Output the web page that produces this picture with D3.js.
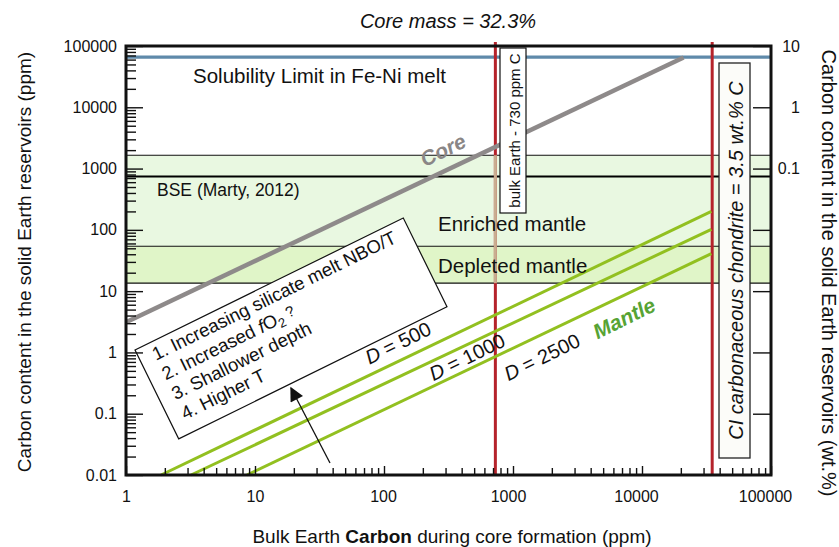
<!DOCTYPE html>
<html>
<head>
<meta charset="utf-8">
<script src="https://cdn.jsdelivr.net/npm/d3@7"></script>
<style>
  body { margin: 0; background: #fff; }
  text { font-family: "Liberation Sans", Arial, Helvetica, sans-serif; }
</style>
</head>
<body>
<svg id="chart" width="839" height="547"></svg>
<script>
// ---- data (ppm unless noted) ----
const xTickValues = [1, 10, 100, 1000, 10000, 100000];
const xTickLabels = ["1", "10", "100", "1000", "10000", "100000"];
const yTickValues = [0.01, 0.1, 1, 10, 100, 1000, 10000, 100000];
const yTickLabels = ["0.01", "0.1", "1", "10", "100", "1000", "10000", "100000"];
const wtTickValues = [10, 1, 0.1, 0.01, 0.001, 0.0001, 0.00001];   // wt.%
const wtTickLabels = ["10", "1", "0.1", "", "", "", ""];
const solubilityLimit = 66000;
const bseCarbon = 740;
const enrichedMantle = [54, 1650];
const depletedMantle = [13.5, 54];
const bulkEarthCarbon = 730;
const ciChondriteCarbon = 35000;
const coreBulk = [1, 21000];
const coreCarbon = [3.1, 65000];
const mantleD = [500, 1000, 2500];
const mantleBulk = [[1.87, 34500], [3.19, 34500], [8.67, 34500]];
const mantleCarbon = [[0.01, 200], [0.01, 102], [0.01, 41]];
const processes = ["1. Increasing silicate melt NBO/T", "2. Increased fO2 ?", "3. Shallower depth", "4. Higher T"];

// ---- layout ----
const plot = { left: 126, right: 771, top: 46, bottom: 475 };
const x = d3.scaleLog().domain([1, 1e5]).range([plot.left, plot.right]);
const y = d3.scaleLog().domain([0.01, 1e5]).range([plot.bottom, plot.top]);
const svg = d3.select("#chart");
const tilt = -26.2;

// mantle reservoir bands
const bands = svg.append("g");
bands.append("rect")
  .attr("x", plot.left).attr("width", plot.right - plot.left)
  .attr("y", y(enrichedMantle[1])).attr("height", y(enrichedMantle[0]) - y(enrichedMantle[1]))
  .attr("fill", "#e9f8e1");
bands.append("rect")
  .attr("x", plot.left).attr("width", plot.right - plot.left)
  .attr("y", y(depletedMantle[1])).attr("height", y(depletedMantle[0]) - y(depletedMantle[1]))
  .attr("fill", "#e0f5c8");
[enrichedMantle[1], enrichedMantle[0], depletedMantle[0]].forEach(v => {
  bands.append("line")
    .attr("x1", plot.left).attr("x2", plot.right)
    .attr("y1", y(v)).attr("y2", y(v))
    .attr("stroke", "#111").attr("stroke-width", 1.2);
});
bands.append("line")
  .attr("x1", plot.left).attr("x2", plot.right)
  .attr("y1", y(bseCarbon)).attr("y2", y(bseCarbon))
  .attr("stroke", "#000").attr("stroke-width", 2);

// solubility limit of carbon in Fe-Ni melt
svg.append("line")
  .attr("x1", plot.left).attr("x2", plot.right)
  .attr("y1", y(solubilityLimit)).attr("y2", y(solubilityLimit))
  .attr("stroke", "#5f8aaa").attr("stroke-width", 3.2);

// bulk Earth carbon (730 ppm), muted where it crosses the mantle bands
svg.append("line")
  .attr("x1", x(bulkEarthCarbon)).attr("x2", x(bulkEarthCarbon))
  .attr("y1", plot.top - 4).attr("y2", plot.bottom)
  .attr("stroke", "#b5232b").attr("stroke-width", 3);
svg.append("line")
  .attr("x1", x(bulkEarthCarbon)).attr("x2", x(bulkEarthCarbon))
  .attr("y1", y(enrichedMantle[1])).attr("y2", y(depletedMantle[0]))
  .attr("stroke", "#c9ad90").attr("stroke-width", 3);

// CI chondrite carbon (3.5 wt.%)
svg.append("line")
  .attr("x1", x(ciChondriteCarbon)).attr("x2", x(ciChondriteCarbon))
  .attr("y1", plot.top - 4).attr("y2", plot.bottom)
  .attr("stroke", "#b5232b").attr("stroke-width", 3);

// core
const line = d3.line().x(d => x(d[0])).y(d => y(d[1]));
svg.append("path")
  .attr("d", line(coreBulk.map((b, i) => [b, coreCarbon[i]])))
  .attr("fill", "none").attr("stroke", "#8e8a8a").attr("stroke-width", 4.5);

// mantle for each partition coefficient D
mantleD.forEach((D, k) => {
  svg.append("path")
    .attr("d", line(mantleBulk[k].map((b, i) => [b, mantleCarbon[k][i]])))
    .attr("fill", "none").attr("stroke", "#92c020").attr("stroke-width", 3);
});

// bulk Earth label box
const beBox = { x: 500, y: 48, w: 26, h: 165 };
svg.append("rect")
  .attr("x", beBox.x).attr("y", beBox.y).attr("width", beBox.w).attr("height", beBox.h)
  .attr("fill", "#fff").attr("stroke", "#111").attr("stroke-width", 1.2);
svg.append("text")
  .attr("transform", `translate(${beBox.x + beBox.w / 2 + 1},${beBox.y + beBox.h / 2}) rotate(-90)`)
  .attr("text-anchor", "middle").attr("dominant-baseline", "central")
  .attr("font-size", 15).attr("fill", "#111")
  .text("bulk Earth - 730 ppm C");

// CI chondrite label box
const ciBox = { x: 719, y: 63, w: 31, h: 395 };
svg.append("rect")
  .attr("x", ciBox.x).attr("y", ciBox.y).attr("width", ciBox.w).attr("height", ciBox.h)
  .attr("fill", "#fcfcf9").attr("stroke", "#222").attr("stroke-width", 1.3);
svg.append("text")
  .attr("transform", `translate(${ciBox.x + ciBox.w / 2 + 1},${ciBox.y + ciBox.h / 2}) rotate(-90)`)
  .attr("text-anchor", "middle").attr("dominant-baseline", "central")
  .attr("font-size", 20).attr("font-style", "italic").attr("fill", "#111")
  .text("CI carbonaceous chondrite = 3.5 wt.% C");

// tilted box listing the processes that lower D
const pBox = svg.append("g").attr("transform", `translate(135,350) rotate(${tilt})`);
pBox.append("rect")
  .attr("width", 299).attr("height", 99)
  .attr("fill", "#fff").attr("stroke", "#111").attr("stroke-width", 1.2);
const pText = pBox.append("g").attr("font-size", 18.5).attr("fill", "#111");
processes.forEach((p, i) => {
  const t = pText.append("text").attr("x", 14).attr("y", 19 + i * 22);
  if (p.includes("fO2")) {
    const [pre, post] = p.split("fO2");
    t.append("tspan").text(pre);
    t.append("tspan").attr("font-style", "italic").text("f");
    t.append("tspan").text("O");
    t.append("tspan").attr("font-size", 13).attr("dy", 4).text("2");
    t.append("tspan").attr("font-size", 15).attr("dy", -6).text(post);
  } else {
    t.text(p);
  }
});

// arrow pointing toward the box
svg.append("defs").append("marker")
  .attr("id", "head").attr("viewBox", "0 0 10 10")
  .attr("refX", 9).attr("refY", 5)
  .attr("markerWidth", 16).attr("markerHeight", 14).attr("markerUnits", "userSpaceOnUse")
  .attr("orient", "auto")
  .append("path").attr("d", "M0,0 L10,5 L0,10 Z").attr("fill", "#111");
svg.append("line")
  .attr("x1", 330).attr("y1", 463).attr("x2", 291).attr("y2", 388)
  .attr("stroke", "#111").attr("stroke-width", 1.3)
  .attr("marker-end", "url(#head)");

// text labels inside the plot
svg.append("text").attr("x", 193).attr("y", 83).attr("font-size", 20.5).attr("fill", "#111")
  .text("Solubility Limit in Fe-Ni melt");
svg.append("text").attr("x", 157).attr("y", 196).attr("font-size", 17.5).attr("fill", "#111")
  .text("BSE (Marty, 2012)");
svg.append("text").attr("x", 438).attr("y", 231).attr("font-size", 20.5).attr("fill", "#111")
  .text("Enriched mantle");
svg.append("text").attr("x", 438).attr("y", 273).attr("font-size", 20.5).attr("fill", "#111")
  .text("Depleted mantle");

function tiltedLabel(cx, cy) {
  return svg.append("text")
    .attr("transform", `translate(${cx},${cy}) rotate(${tilt})`)
    .attr("text-anchor", "middle").attr("dominant-baseline", "central");
}
tiltedLabel(443, 150).attr("font-size", 21).attr("font-weight", "bold").attr("font-style", "italic")
  .attr("fill", "#8a8686").text("Core");
tiltedLabel(624, 318).attr("font-size", 21).attr("font-weight", "bold").attr("font-style", "italic")
  .attr("fill", "#57a334").text("Mantle");
const dPos = [[398, 343], [467, 357], [542, 357]];
mantleD.forEach((D, k) => {
  const t = tiltedLabel(dPos[k][0], dPos[k][1]).attr("font-size", 20).attr("fill", "#111");
  t.append("tspan").attr("font-style", "italic").text("D");
  t.append("tspan").text(" = " + D);
});

// axes
const minorTicks = [];
for (let e = -2; e < 5; e++) for (let m = 2; m <= 9; m++) minorTicks.push(m * Math.pow(10, e));
const xMinor = minorTicks.filter(v => v >= 1 && v <= 1e5);

function styleAxis(g) {
  g.select(".domain").remove();
  g.selectAll(".tick line").attr("stroke", "#111").attr("stroke-width", 1.4);
  g.selectAll(".tick text").attr("font-size", 16).attr("fill", "#111")
    .attr("font-family", '"Liberation Sans", Arial, sans-serif');
}

// left
svg.append("g").attr("transform", `translate(${plot.left},0)`)
  .call(d3.axisLeft(y).tickValues(minorTicks).tickSize(-10).tickFormat(""))
  .call(styleAxis);
svg.append("g").attr("transform", `translate(${plot.left},0)`)
  .call(d3.axisLeft(y).tickValues(yTickValues).tickSize(-17).tickPadding(9)
    .tickFormat((d, i) => yTickLabels[i]))
  .call(styleAxis);

// bottom
svg.append("g").attr("transform", `translate(0,${plot.bottom})`)
  .call(d3.axisBottom(x).tickValues(xMinor).tickSize(-7).tickFormat(""))
  .call(styleAxis);
const xAxisG = svg.append("g").attr("transform", `translate(0,${plot.bottom})`)
  .call(d3.axisBottom(x).tickValues(xTickValues).tickSize(-9).tickPadding(16)
    .tickFormat((d, i) => xTickLabels[i]))
  .call(styleAxis);
// longer numbers sit a little left of their tick
xAxisG.selectAll(".tick text").attr("dx", (d, i) => [0, 0, -1, -5, -6, -6][i]);

// right (wt.%)
const rightAxis = svg.append("g").attr("transform", `translate(${plot.right},0)`)
  .call(d3.axisRight(y).tickValues(wtTickValues.map(w => w * 1e4)).tickSize(-18)
    .tickFormat((d, i) => wtTickLabels[i]))
  .call(styleAxis);
rightAxis.selectAll(".tick text").attr("x", 29).attr("text-anchor", "end");

// frame
svg.append("rect")
  .attr("x", plot.left).attr("y", plot.top)
  .attr("width", plot.right - plot.left).attr("height", plot.bottom - plot.top)
  .attr("fill", "none").attr("stroke", "#111").attr("stroke-width", 3);

// titles
svg.append("text").attr("x", 448).attr("y", 28).attr("text-anchor", "middle")
  .attr("font-size", 20).attr("font-style", "italic").attr("fill", "#111")
  .text("Core mass = 32.3%");
const xTitle = svg.append("text").attr("x", 452).attr("y", 543).attr("text-anchor", "middle")
  .attr("font-size", 19).attr("fill", "#111");
xTitle.append("tspan").text("Bulk Earth ");
xTitle.append("tspan").attr("font-weight", "bold").text("Carbon");
xTitle.append("tspan").text(" during core formation (ppm)");
svg.append("text").attr("transform", "translate(31,262) rotate(-90)").attr("text-anchor", "middle")
  .attr("font-size", 19).attr("fill", "#111")
  .text("Carbon content in the solid Earth reservoirs (ppm)");
svg.append("text").attr("transform", "translate(822,273) rotate(90)").attr("text-anchor", "middle")
  .attr("font-size", 20).attr("fill", "#111")
  .text("Carbon content in the solid Earth reservoirs (wt.%)");
</script>
</body>
</html>
